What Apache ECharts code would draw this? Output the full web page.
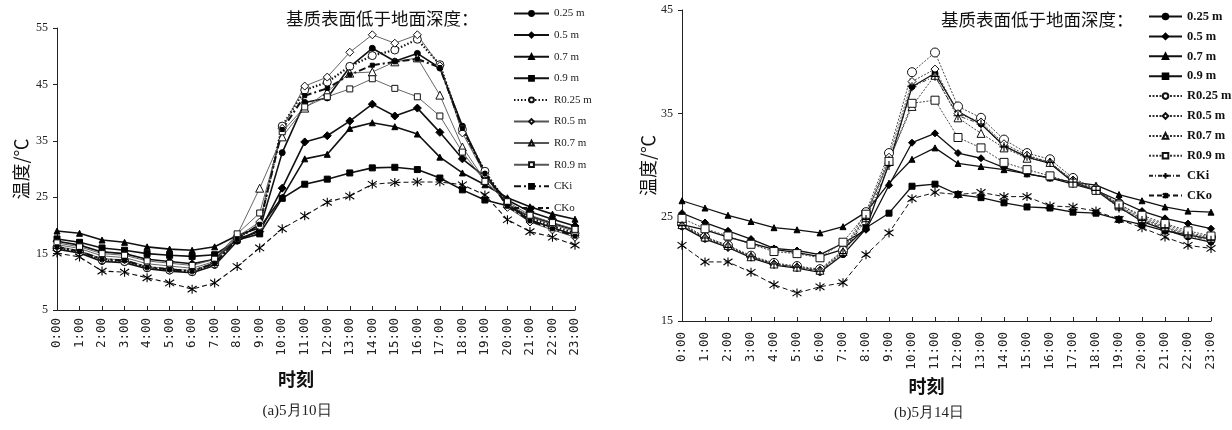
<!DOCTYPE html>
<html>
<head>
<meta charset="utf-8">
<title>基质表面低于地面深度 温度日变化</title>
<script src="https://cdn.jsdelivr.net/npm/echarts@6/dist/echarts.min.js"></script>
<style>
  html, body { margin: 0; padding: 0; background: #fff; }
  #chart { width: 1232px; height: 430px; }
</style>
</head>
<body>
<div id="chart"></div>
<script>
// Hour categories shared by both panels
const hours = ['0:00','1:00','2:00','3:00','4:00','5:00','6:00','7:00','8:00','9:00','10:00','11:00',
               '12:00','13:00','14:00','15:00','16:00','17:00','18:00','19:00','20:00','21:00','22:00','23:00'];

const seriesNames = ['0.25 m','0.5 m','0.7 m','0.9 m','R0.25 m','R0.5 m','R0.7 m','R0.9 m','CKi','CKo'];

// Y-axis tick values
const ticksA = [5, 15, 25, 35, 45, 55];
const ticksB = [15, 25, 35, 45];

// (a) 5月10日 temperatures, °C
const a_d025 = [15.8,15.1,13.6,13.4,12.3,11.9,11.6,12.9,17.2,19.3,32.9,41.8,42.6,48.1,51.4,49.1,50.5,47.9,37.6,29.3,23.6,21.0,19.6,18.3];
const a_d05  = [17.2,16.5,15.3,15.0,14.0,13.6,13.2,14.0,17.6,18.9,26.6,34.8,35.9,38.5,41.5,39.4,40.8,36.5,31.8,28.6,24.5,22.4,21.1,19.9];
const a_d07  = [19.0,18.6,17.4,17.0,16.2,15.8,15.6,16.2,18.2,19.6,25.0,31.8,32.6,37.2,38.2,37.5,36.2,32.1,29.3,27.2,24.9,23.3,22.0,21.1];
const a_d09  = [17.6,17.0,16.0,15.6,15.0,14.7,14.5,14.8,17.4,18.5,24.8,27.3,28.2,29.3,30.2,30.3,29.9,28.4,26.3,24.5,23.5,21.6,20.4,19.2];
const a_r025 = [16.0,15.3,13.9,13.6,12.5,12.1,11.8,13.2,17.8,20.0,37.6,44.0,45.4,48.2,50.1,51.1,53.0,48.5,37.0,29.6,23.8,21.3,19.9,18.6];
const a_r05  = [16.3,15.5,14.1,13.9,12.7,12.3,12.0,13.4,18.0,20.6,37.2,44.7,46.3,50.7,53.8,52.3,53.8,48.3,36.4,29.0,23.2,20.6,19.2,17.9];
const a_r07  = [16.6,15.9,14.6,14.3,13.2,12.8,12.4,13.6,18.3,26.6,35.7,40.8,43.7,47.0,47.2,49.0,49.7,43.1,33.9,28.0,23.9,21.5,20.2,18.9];
const a_r09  = [16.9,16.2,15.0,14.7,13.7,13.3,12.9,14.0,18.5,22.2,36.6,41.0,42.8,44.2,46.0,44.3,42.8,39.4,33.0,27.8,24.2,21.8,20.5,19.3];
const a_cki  = [16.2,15.4,14.0,13.8,12.6,12.2,11.9,13.3,17.6,20.2,37.0,43.0,44.3,46.7,48.4,49.0,49.5,48.0,37.2,29.2,23.4,20.8,19.4,18.1];
const a_cko  = [15.1,14.4,11.9,11.7,10.7,9.8,8.7,9.8,12.7,16.0,19.4,21.7,24.1,25.2,27.3,27.6,27.7,27.7,27.2,25.4,21.0,18.9,17.9,16.5];

// (b) 5月14日 temperatures, °C
const b_d025 = [24.1,22.9,22.1,21.1,20.4,20.1,19.7,21.4,23.9,30.2,37.6,38.9,35.2,34.0,31.9,30.8,30.2,28.4,27.6,26.0,24.6,23.8,23.1,22.6];
const b_d05  = [25.4,24.5,23.7,22.9,22.0,21.8,21.4,22.5,23.8,28.1,32.2,33.1,31.2,30.7,29.8,29.2,28.8,28.2,27.6,26.6,25.6,24.9,24.4,23.9];
const b_d07  = [26.6,25.9,25.2,24.6,24.0,23.8,23.5,24.1,25.5,28.3,30.6,31.7,30.2,29.9,29.6,29.2,28.8,28.4,28.1,27.2,26.6,26.0,25.6,25.5];
const b_d09  = [24.3,23.8,23.1,22.5,21.9,21.6,21.2,21.9,24.0,25.4,28.0,28.2,27.2,26.9,26.4,26.0,25.9,25.5,25.4,24.8,24.3,23.7,23.3,22.9];
const b_r025 = [24.4,23.1,22.3,21.3,20.6,20.3,20.0,21.8,25.5,31.2,39.0,40.9,35.7,34.6,32.5,31.2,30.6,28.8,27.7,26.3,25.0,24.3,23.5,23.1];
const b_r05  = [24.2,23.0,22.2,21.2,20.5,20.2,19.9,21.6,25.2,30.8,38.1,39.3,35.0,34.2,32.1,31.0,30.3,28.6,27.8,26.0,24.8,24.0,23.3,22.9];
const b_r07  = [24.3,23.1,22.3,21.2,20.5,20.2,19.9,21.7,25.0,30.5,35.7,38.7,34.6,33.1,31.7,30.7,30.3,28.5,27.7,26.1,24.9,24.1,23.4,23.0];
const b_r09  = [24.9,23.9,23.2,22.4,21.7,21.5,21.1,22.6,25.3,30.4,36.0,36.3,32.7,31.7,30.3,29.6,29.0,28.3,27.6,26.2,25.2,24.4,23.7,23.2];
const b_cki  = [24.2,23.0,22.1,21.2,20.5,20.2,19.8,21.5,24.8,30.0,37.6,38.6,34.8,34.0,31.8,30.9,30.3,28.4,27.6,25.9,24.7,23.9,23.2,22.8];
const b_cko  = [22.3,20.7,20.7,19.7,18.5,17.7,18.3,18.7,21.4,23.5,26.8,27.4,27.2,27.4,27.0,27.0,26.1,26.0,25.6,24.8,24.0,23.1,22.3,22.0];

const dataA = [a_d025, a_d05, a_d07, a_d09, a_r025, a_r05, a_r07, a_r09, a_cki, a_cko];
const dataB = [b_d025, b_d05, b_d07, b_d09, b_r025, b_r05, b_r07, b_r09, b_cki, b_cko];

// Marker shapes
const STAR = 'path://M0,1.5L10,8.5M10,1.5L0,8.5M5,0L5,10';
const PLUS = 'path://M0,5L10,5M5,0L5,10';
const filled = { color: '#000', borderColor: '#000', borderWidth: 1 };
const hollow = { color: '#fff', borderColor: '#111', borderWidth: 1 };
const stroked = { color: 'rgba(0,0,0,0)', borderColor: '#000', borderWidth: 1.1 };

// Per-series look for panel (a)
const styleA = [
  { symbol: 'circle',   size: 6, item: filled, line: { color: '#111', width: 1.6, type: 'solid' } },
  { symbol: 'diamond',  size: 8, item: filled, line: { color: '#111', width: 1.6, type: 'solid' } },
  { symbol: 'triangle', size: 6, item: filled, line: { color: '#111', width: 1.6, type: 'solid' } },
  { symbol: 'rect',     size: 6, item: filled, line: { color: '#111', width: 1.6, type: 'solid' } },
  { symbol: 'circle',   size: 8, item: hollow, line: { color: '#111', width: 2.2, type: [1.5, 2] } },
  { symbol: 'diamond',  size: 8, item: hollow, line: { color: '#555', width: 0.9, type: 'solid' } },
  { symbol: 'triangle', size: 8, item: hollow, line: { color: '#555', width: 0.9, type: 'solid' } },
  { symbol: 'rect',     size: 6, item: hollow, line: { color: '#555', width: 0.9, type: 'solid' } },
  { symbol: 'rect',     size: 4, item: filled, line: { color: '#111', width: 2, type: [7, 3, 2, 3] } },
  { symbol: STAR,       size: 9, item: stroked, line: { color: '#111', width: 1.1, type: [5, 3] } }
];

// Per-series look for panel (b)
const styleB = [
  { symbol: 'circle',   size: 6, item: filled, line: { color: '#111', width: 1.3, type: 'solid' } },
  { symbol: 'diamond',  size: 7, item: filled, line: { color: '#111', width: 1.3, type: 'solid' } },
  { symbol: 'triangle', size: 6, item: filled, line: { color: '#111', width: 1.3, type: 'solid' } },
  { symbol: 'rect',     size: 6, item: filled, line: { color: '#111', width: 1.3, type: 'solid' } },
  { symbol: 'circle',   size: 9, item: hollow, line: { color: '#333', width: 0.9, type: [2, 1.5] } },
  { symbol: 'diamond',  size: 8, item: hollow, line: { color: '#333', width: 0.9, type: [2, 1.5] } },
  { symbol: 'triangle', size: 8, item: hollow, line: { color: '#333', width: 0.9, type: [2, 1.5] } },
  { symbol: 'rect',     size: 8, item: hollow, line: { color: '#333', width: 0.9, type: [2, 1.5] } },
  { symbol: PLUS,       size: 9, item: stroked, line: { color: '#222', width: 0.9, type: [4, 2, 1, 2] } },
  { symbol: STAR,       size: 9, item: stroked, line: { color: '#111', width: 1.0, type: [5, 3] } }
];

// Series ids per panel; the panel key keeps the two legends bound to their own lines
const panelKey = (i, panel) => seriesNames[i] + '|' + panel;
const legendLabel = (key) => key.split('|')[0];

function buildSeries(values, styles, axisIndex, panel) {
  return values.map((arr, i) => ({
    name: panelKey(i, panel),
    type: 'line',
    xAxisIndex: axisIndex,
    yAxisIndex: axisIndex,
    data: arr,
    symbol: styles[i].symbol,
    symbolSize: styles[i].size,
    showAllSymbol: true,
    itemStyle: styles[i].item,
    lineStyle: styles[i].line,
    animation: false
  }));
}

const serif = '"Liberation Serif", "Times New Roman", serif';
const cjk = '"Noto Sans CJK SC", "Noto Sans", sans-serif';

function xAxisFor(gridIndex, nameGap, labelMargin) {
  return {
    gridIndex: gridIndex,
    type: 'category',
    data: hours,
    boundaryGap: false,
    name: '时刻',
    nameLocation: 'middle',
    nameGap: nameGap,
    nameTextStyle: { fontFamily: cjk, fontSize: 18, fontWeight: 'bold', color: '#111', padding: [0, 40, 0, 0] },
    axisLine: { lineStyle: { color: '#222', width: 1 } },
    axisTick: { inside: true, length: 4, interval: 0, lineStyle: { color: '#222' } },
    axisLabel: { rotate: 90, interval: 0, margin: labelMargin, fontFamily: '"DejaVu Sans Mono", monospace', fontSize: 12.5, color: '#222' },
    splitLine: { show: false }
  };
}

function yAxisFor(gridIndex, ticks, nameGap) {
  return {
    gridIndex: gridIndex,
    type: 'value',
    min: ticks[0],
    max: ticks[ticks.length - 1],
    interval: ticks[1] - ticks[0],
    name: '温度/℃',
    nameLocation: 'middle',
    nameGap: nameGap,
    nameRotate: 90,
    nameTextStyle: { fontFamily: cjk, fontSize: 18, color: '#111' },
    axisLine: { show: true, lineStyle: { color: '#222', width: 1 } },
    axisTick: { show: true, inside: false, length: 4, lineStyle: { color: '#222' } },
    axisLabel: { margin: 9, fontFamily: serif, fontSize: 12, color: '#222' },
    splitLine: { show: false }
  };
}

const legendTitle = '基质表面低于地面深度：';

const option = {
  backgroundColor: '#fff',
  animation: false,
  title: [
    { text: legendTitle, left: 281, top: 5, textStyle: { fontFamily: cjk, fontSize: 17.5, fontWeight: 'normal', color: '#111' } },
    { text: legendTitle, left: 936, top: 6, textStyle: { fontFamily: cjk, fontSize: 17.5, fontWeight: 'normal', color: '#111' } }
  ],
  legend: [
    {
      data: seriesNames.map((n, i) => panelKey(i, 'a')),
      formatter: legendLabel,
      orient: 'vertical', left: 508, top: 3,
      itemWidth: 35, itemHeight: 6, itemGap: 10.6,
      textStyle: { fontFamily: serif, fontSize: 11, color: '#222' },
      selectedMode: false
    },
    {
      data: seriesNames.map((n, i) => panelKey(i, 'b')),
      formatter: legendLabel,
      orient: 'vertical', left: 1143, top: 5,
      itemWidth: 33, itemHeight: 7, itemGap: 6.9,
      textStyle: { fontFamily: serif, fontSize: 12.5, fontWeight: 'bold', color: '#111' },
      selectedMode: false
    }
  ],
  grid: [
    { left: 57, top: 28, width: 518, height: 282 },
    { left: 682, top: 10, width: 529, height: 311 }
  ],
  xAxis: [xAxisFor(0, 60, 8), xAxisFor(1, 52, 11)],
  yAxis: [yAxisFor(0, ticksA, 27), yAxisFor(1, ticksB, 22)],
  graphic: [
    { type: 'text', x: 297, y: 411, style: { text: '(a)5月10日', fontFamily: serif, fontSize: 15, fill: '#222', align: 'center', verticalAlign: 'middle' } },
    { type: 'text', x: 929, y: 413, style: { text: '(b)5月14日', fontFamily: serif, fontSize: 15, fill: '#222', align: 'center', verticalAlign: 'middle' } }
  ],
  series: buildSeries(dataA, styleA, 0, 'a').concat(buildSeries(dataB, styleB, 1, 'b'))
};

const chart = echarts.init(document.getElementById('chart'), null, { renderer: 'canvas' });
chart.setOption(option);
</script>
</body>
</html>
